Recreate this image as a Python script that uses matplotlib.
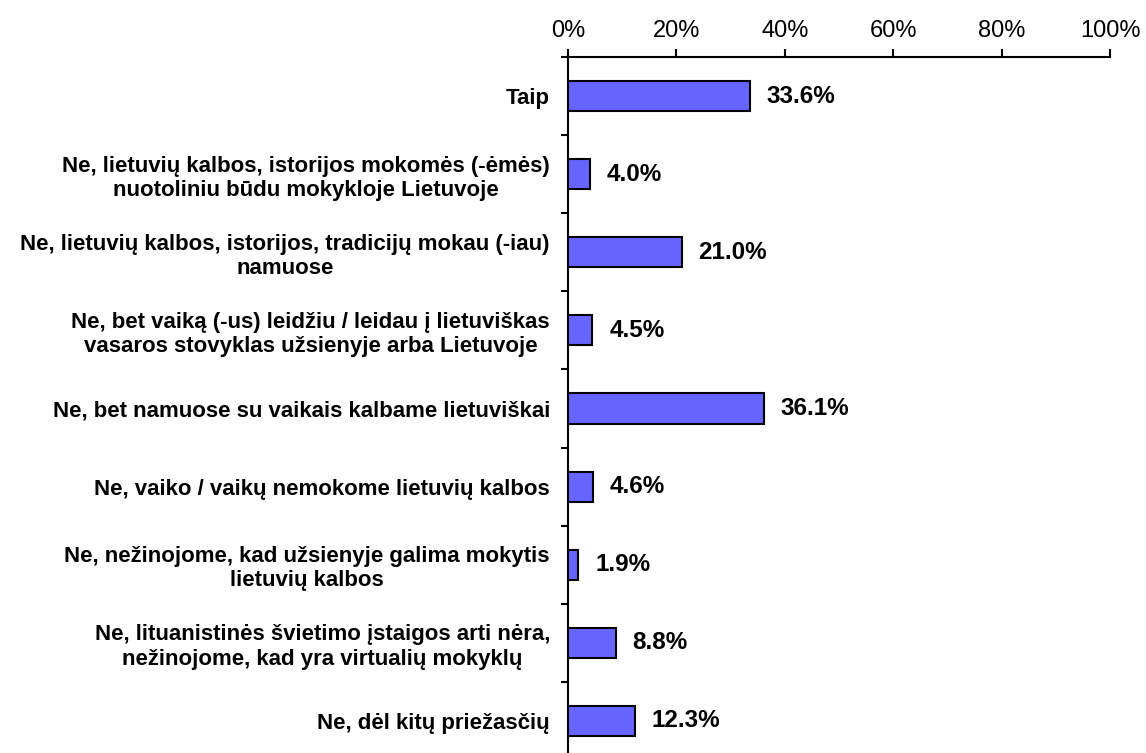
import matplotlib.pyplot as plt
import numpy as np

plt.rcParams['font.family'] = ['Liberation Sans', 'DejaVu Sans']

categories = [
    "Taip",
    "Ne, lietuvių kalbos, istorijos mokomės (-ėmės)\nnuotoliniu būdu mokykloje Lietuvoje",
    "Ne, lietuvių kalbos, istorijos, tradicijų mokau (-iau)\nnamuose",
    "Ne, bet vaiką (-us) leidžiu / leidau į lietuviškas\nvasaros stovyklas užsienyje arba Lietuvoje",
    "Ne, bet namuose su vaikais kalbame lietuviškai",
    "Ne, vaiko / vaikų nemokome lietuvių kalbos",
    "Ne, nežinojome, kad užsienyje galima mokytis\nlietuvių kalbos",
    "Ne, lituanistinės švietimo įstaigos arti nėra,\nnežinojome, kad yra virtualių mokyklų",
    "Ne, dėl kitų priežasčių",
]
values = [33.6, 4.0, 21.0, 4.5, 36.1, 4.6, 1.9, 8.8, 12.3]
xticks = [0, 20, 40, 60, 80, 100]

W, H = 1146, 753
fig = plt.figure(figsize=(W / 100, H / 100), dpi=100)
# axes placed in pixel terms; bottom runs slightly past the image edge
ax = fig.add_axes([568 / W, 1 - 760 / H, 542 / W, 703 / H])

y = np.arange(len(categories))
ax.barh(y, values, height=0.385, color='#6666FF', edgecolor='black', linewidth=1.5, zorder=3)

for yi, v in zip(y, values):
    ax.text(v + 3.1, yi, f"{v:.1f}%", va='center', ha='left',
            fontsize=17.5, fontweight='bold')

ax.set_xlim(0, 100)
ax.set_ylim(len(categories) - 0.5, -0.5)

ax.xaxis.tick_top()
ax.set_xticks(xticks)
ax.set_xticklabels([f"{t}%" for t in xticks], fontsize=17)
ax.tick_params(axis='x', direction='out', length=6, width=1.5, pad=5)

ax.set_yticks(y)
ax.set_yticklabels(categories, fontsize=16, fontweight='bold',
                   multialignment='center', linespacing=1.2)
ax.tick_params(axis='y', which='major', length=0, pad=13)
ax.set_yticks(np.arange(len(categories) + 1) - 0.5, minor=True)
ax.tick_params(axis='y', which='minor', direction='out', length=5, width=1.5)

for s in ['right', 'bottom']:
    ax.spines[s].set_visible(False)
ax.spines['top'].set_linewidth(1.5)
ax.spines['left'].set_linewidth(1.5)

fig.savefig('out.png', dpi=100)
